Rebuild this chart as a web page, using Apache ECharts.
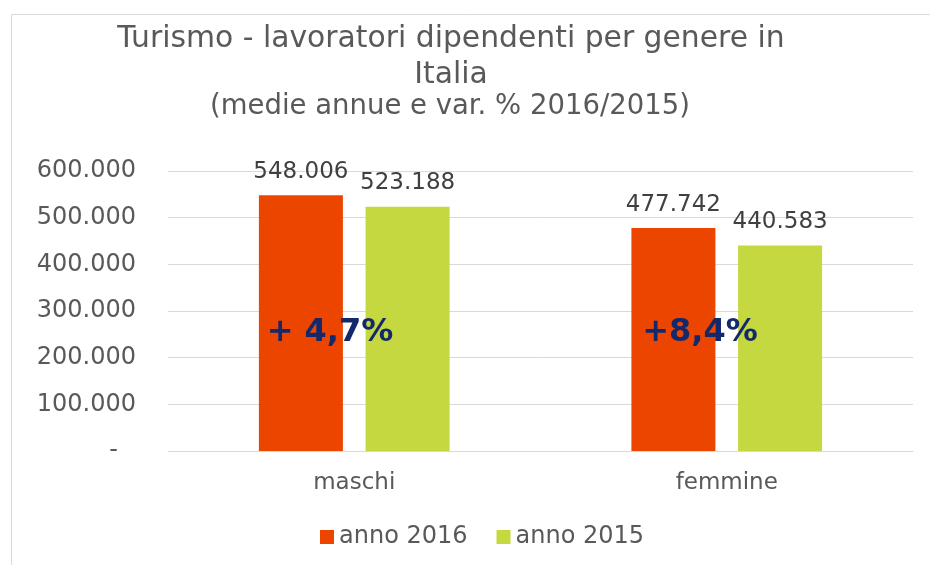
<!DOCTYPE html>
<html>
<head>
<meta charset="utf-8">
<script src="https://cdn.jsdelivr.net/npm/echarts@6/dist/echarts.min.js"></script>
<style>
html,body{margin:0;padding:0;background:#fff;}
#c{width:930px;height:565px;}
</style>
</head>
<body>
<div id="c"></div>
<script>
const categories = ['maschi', 'femmine'];
const seriesNames = ['anno 2016', 'anno 2015'];
const values2016 = [548006, 477742];
const values2015 = [523188, 440583];
const variations = ['+ 4,7%', '+8,4%'];
const yTicks = [0, 100000, 200000, 300000, 400000, 500000, 600000];

const FONT = 'DejaVu Sans';
const fmt = v => v === 0 ? '{d|-}' : String(v).replace(/\B(?=(\d{3})+(?!\d))/g, '.');
const fmtLbl = v => String(v).replace(/\B(?=(\d{3})+(?!\d))/g, '.');

const chart = echarts.init(document.getElementById('c'));
const grid = {left: 168, right: 17, top: 171, bottom: 114};

function barLabel() {
  return {show: true, position: 'top', distance: 12, color: '#404040', fontSize: 23, fontFamily: FONT,
    formatter: p => fmtLbl(p.value)};
}

chart.setOption({
  animation: false,
  textStyle: {fontFamily: FONT},
  grid: grid,
  legend: {
    data: seriesNames, left: 315, top: 520, icon: 'rect', itemWidth: 14, itemHeight: 14, itemGap: 29,
    textStyle: {fontSize: 24, color: '#595959', fontFamily: FONT}
  },
  xAxis: {
    type: 'category', data: categories,
    axisLine: {lineStyle: {color: '#d9d9d9'}}, axisTick: {show: false},
    axisLabel: {fontSize: 23, color: '#595959', margin: 21, fontFamily: FONT}
  },
  yAxis: {
    type: 'value', min: yTicks[0], max: yTicks[yTicks.length - 1], interval: 100000,
    axisLine: {show: false}, axisTick: {show: false},
    splitLine: {lineStyle: {color: '#d9d9d9', width: 1}},
    axisLabel: {fontSize: 24, color: '#595959', margin: 32, fontFamily: FONT, formatter: fmt,
      rich: {d: {fontSize: 24, color: '#595959', padding: [0, 18, 0, 0], fontFamily: FONT}}}
  },
  series: [
    {name: seriesNames[0], type: 'bar', data: values2016, barWidth: 84, barGap: '27%',
     itemStyle: {color: '#EC4500'}, label: barLabel()},
    {name: seriesNames[1], type: 'bar', data: values2015, barWidth: 84,
     itemStyle: {color: '#C5D83F'}, label: barLabel()}
  ]
});

function place() {
  const els = [
    {type: 'rect', shape: {x: 11.5, y: 14.5, width: 1200, height: 1200}, style: {fill: 'none', stroke: '#d9d9d9', lineWidth: 1}, silent: true},
    {type: 'text', x: 451, y: 21, style: {text: 'Turismo - lavoratori dipendenti per genere in\nItalia', align: 'center', verticalAlign: 'top', fontSize: 29.8, lineHeight: 36, fill: '#595959', fontFamily: FONT}},
    {type: 'text', x: 450, y: 107, style: {text: '(medie annue e var. % 2016/2015)', align: 'center', verticalAlign: 'middle', fontSize: 27.5, fill: '#595959', fontFamily: FONT}}
  ];
  const xs = [330, 700];
  categories.forEach((c, i) => {
    els.push({type: 'text', x: xs[i], y: 333, z: 100, style: {text: variations[i], align: 'center', verticalAlign: 'middle', fontSize: 32, fontWeight: 'bold', fill: '#13296B', fontFamily: FONT}});
  });
  chart.setOption({graphic: {elements: els}});
}
place();
</script>
</body>
</html>
